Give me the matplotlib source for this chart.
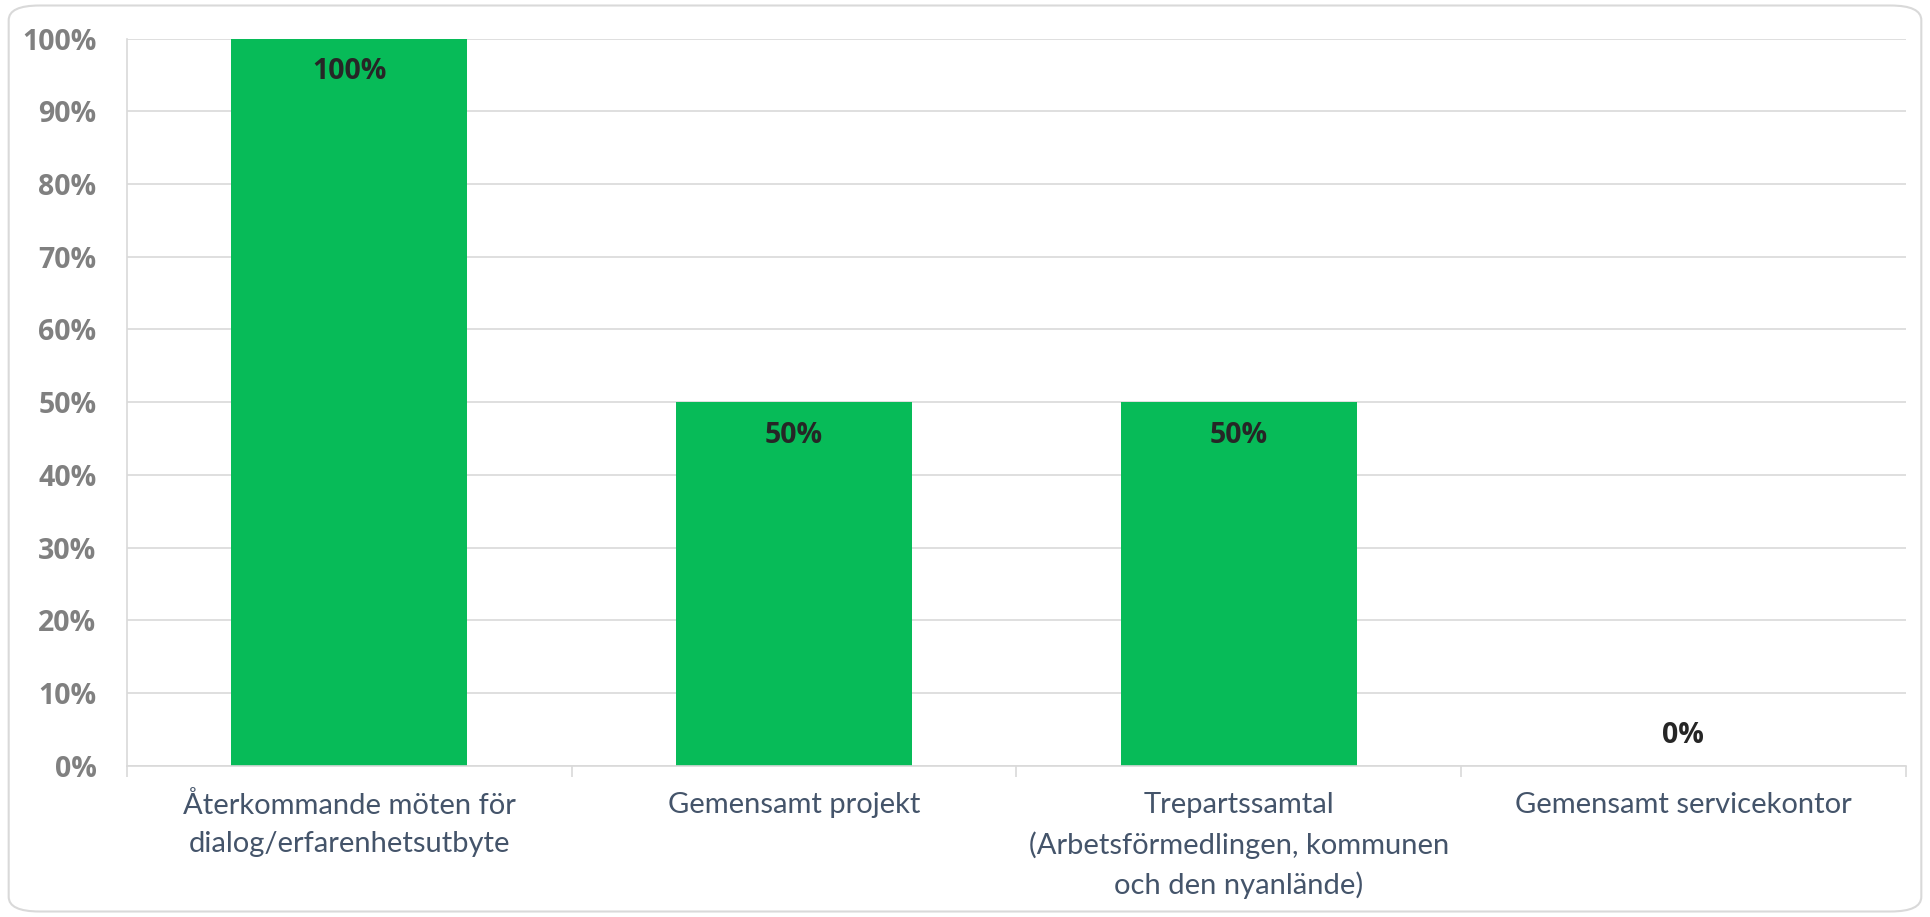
import matplotlib.pyplot as plt
from matplotlib.patches import FancyBboxPatch
from matplotlib.ticker import FixedLocator, PercentFormatter

categories = ['Återkommande möten för\ndialog/erfarenhetsutbyte',
              'Gemensamt projekt',
              'Trepartssamtal\n(Arbetsförmedlingen, kommunen\noch den nyanlände)',
              'Gemensamt servicekontor']
values = [100, 50, 50, 0]
yticks = [0, 10, 20, 30, 40, 50, 60, 70, 80, 90, 100]

green = '#07BB58'
grid = '#D9D9D9'
bold_family = ['Open Sans', 'DejaVu Sans']

plt.rcParams['font.family'] = ['Lato', 'DejaVu Sans']

fig = plt.figure(figsize=(19.3, 9.17), dpi=100)
# rounded chart border
fig.patches.append(FancyBboxPatch((0.0045, 0.006), 0.991, 0.988,
                                  boxstyle='round,pad=0,rounding_size=0.016',
                                  transform=fig.transFigure, facecolor='white',
                                  edgecolor='#D9D9D9', linewidth=1.5, zorder=-1))
ax = fig.add_axes([0.0658, 0.1647, 0.9216, 0.7933])
ax.set_facecolor('none')

x = range(len(categories))
bars = ax.bar(x, values, width=0.53, color=green, zorder=2)

for b, v in zip(bars, values):
    off = -24 if v > 0 else 22
    ax.annotate(f'{v}%', (b.get_x() + b.get_width() / 2, v), xytext=(0, off),
                textcoords='offset points', ha='center', va='center',
                fontsize=20.5, fontweight='bold', family=bold_family,
                color='#262626', zorder=3)

ax.set_xlim(-0.5, len(categories) - 0.5)
ax.set_ylim(0, 100)
ax.set_yticks(yticks)
ax.yaxis.set_major_formatter(PercentFormatter(decimals=0))
ax.grid(axis='y', color=grid, linewidth=1.2, zorder=0)
ax.set_axisbelow(True)

ax.set_xticks(list(x))
ax.set_xticklabels(categories, fontsize=21, color='#44546A', linespacing=1.56)
ax.xaxis.set_minor_locator(FixedLocator([i - 0.5 for i in range(len(categories) + 1)]))
ax.tick_params(axis='x', which='major', length=0, pad=19)
ax.tick_params(axis='x', which='minor', length=8, color=grid, width=1.2)
ax.tick_params(axis='y', length=0, pad=22)
for lbl in ax.get_yticklabels():
    lbl.set_fontsize(20.5)
    lbl.set_fontweight('bold')
    lbl.set_family(bold_family)
    lbl.set_color('#808080')

for s in ['top', 'right']:
    ax.spines[s].set_visible(False)
ax.spines['left'].set_color(grid)
ax.spines['bottom'].set_color(grid)
ax.spines['left'].set_linewidth(1.2)
ax.spines['bottom'].set_linewidth(1.2)

fig.savefig('out.png', dpi=100)
